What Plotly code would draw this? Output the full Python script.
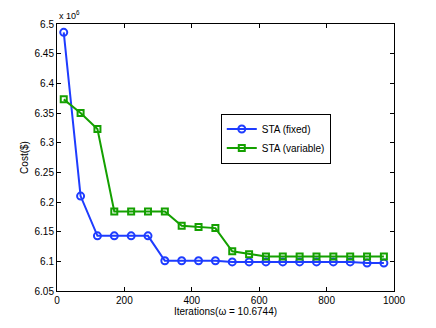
import plotly.graph_objects as go

iterations = [20, 70, 120, 170, 220, 270, 320, 370, 420, 470, 520, 570, 620, 670, 720, 770, 820, 870, 920, 970]
sta_fixed = [6.486, 6.210, 6.143, 6.143, 6.143, 6.143, 6.101, 6.101, 6.101, 6.101, 6.099, 6.099, 6.099, 6.099, 6.099, 6.099, 6.099, 6.099, 6.097, 6.097]
sta_variable = [6.373, 6.350, 6.323, 6.184, 6.184, 6.184, 6.184, 6.160, 6.158, 6.156, 6.117, 6.112, 6.108, 6.108, 6.108, 6.108, 6.108, 6.108, 6.108, 6.108]

y_ticks = [6.05, 6.1, 6.15, 6.2, 6.25, 6.3, 6.35, 6.4, 6.45, 6.5]
y_tick_labels = ["6.05", "6.1", "6.15", "6.2", "6.25", "6.3", "6.35", "6.4", "6.45", "6.5"]
x_ticks = [0, 200, 400, 600, 800, 1000]

blue = "rgb(30,60,255)"
green = "rgb(20,160,0)"
font = "Liberation Sans, Arial, sans-serif"

fig = go.Figure()
fig.add_trace(go.Scatter(x=iterations, y=sta_fixed, name="STA (fixed)", mode="lines+markers",
                         line=dict(color=blue, width=2),
                         marker=dict(symbol="circle-open", size=7, line=dict(width=2, color=blue))))
fig.add_trace(go.Scatter(x=iterations, y=sta_variable, name="STA (variable)", mode="lines+markers",
                         line=dict(color=green, width=2),
                         marker=dict(symbol="square-open", size=6, line=dict(width=2, color=green))))

axis_common = dict(showgrid=False, zeroline=False, showline=True, linecolor="black", linewidth=1,
                   mirror="ticks", ticks="inside", ticklen=4, tickcolor="black",
                   tickfont=dict(family=font, size=10, color="black"))

fig.update_layout(
    width=436, height=328,
    margin=dict(l=57, r=42, t=24, b=37),
    paper_bgcolor="white", plot_bgcolor="white",
    font=dict(family=font, size=10, color="black"),
    xaxis=dict(range=[0, 1000], tickvals=x_ticks, **axis_common,
               title=dict(text="Iterations(ω = 10.6744)", font=dict(size=10, family=font), standoff=2)),
    yaxis=dict(range=[6.05, 6.5], tickvals=y_ticks, ticktext=y_tick_labels, **axis_common,
               title=dict(text="Cost($)", font=dict(size=10, family=font), standoff=4)),
    legend=dict(x=0.486, y=0.571, xanchor="left", yanchor="middle", bgcolor="white",
                bordercolor="black", borderwidth=1, font=dict(size=10, family=font),
                tracegroupgap=0, itemwidth=30),
    showlegend=True,
    annotations=[dict(text="x 10<sup>6</sup>", x=0, y=1.0, xref="paper", yref="paper",
                      xanchor="left", yanchor="bottom", showarrow=False,
                      font=dict(size=9, family=font), yshift=1)],
)

fig.write_html("out.html", config={"displayModeBar": False},
               post_script="document.body.style.margin='0';document.body.style.overflow='hidden';")
